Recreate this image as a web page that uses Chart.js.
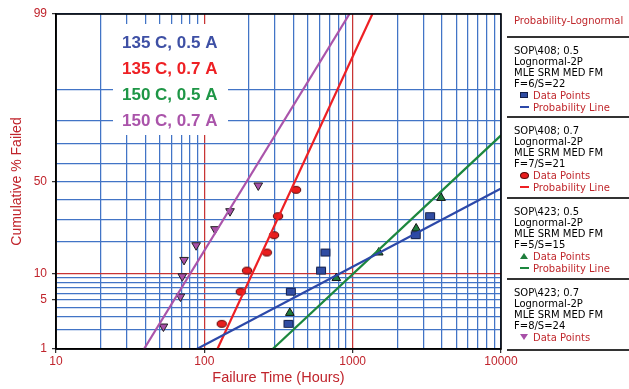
<!DOCTYPE html>
<html>
<head>
<meta charset="utf-8">
<script src="https://cdn.jsdelivr.net/npm/chart.js@4.4.1/dist/chart.umd.min.js"></script>
<style>
  body { margin: 0; background: #fff; }
  #wrap { position: relative; width: 629px; height: 389px; }
  #panel { position: absolute; left: 507px; top: 0; width: 122px; height: 389px;
           font-family: "DejaVu Sans", sans-serif; font-size: 10px; color: #000; }
  #panel .row { position: absolute; left: 7px; height: 11px; line-height: 11px; white-space: nowrap; }
  #panel .key { color: #c0282d; left: 26px; }
  #panel .sep { position: absolute; left: 0; width: 122px; height: 0; border-top: 2px solid #333; }
  #panel .ico { position: absolute; left: 13px; }
</style>
</head>
<body>
<div id="wrap">
  <canvas id="myChart" width="629" height="389"></canvas>
  <div id="panel"></div>
</div>
<script>
// axes
const xGridValues = [10, 20, 30, 40, 50, 60, 70, 80, 90, 100, 200, 300, 400, 500, 600, 700, 800, 900,
  1000, 2000, 3000, 4000, 5000, 6000, 7000, 8000, 9000, 10000];
const xTickLabels = [10, 100, 1000, 10000];
const yGridPct = [1, 2, 3, 4, 5, 6, 7, 8, 9, 10, 20, 30, 40, 50, 60, 70, 80, 90, 99];
const yTickLabels = [1, 5, 10, 50, 99];

// SOP\408; 0.5  (135 C, 0.5 A)
const blueTimes = [369, 383, 612, 655, 2661, 3327];
const bluePct = [2.4, 6.3, 10.8, 16.2, 22.8, 31.5];
const blueLineTimes = [89, 10000];
const blueLinePct = [1, 46.1];

// SOP\408; 0.7  (135 C, 0.7 A)
const redTimes = [131, 176, 194, 264, 295, 314, 415];
const redPct = [2.4, 6.3, 10.8, 16.2, 22.8, 31.5, 45.4];
const redLineTimes = [122.5, 1358];
const redLinePct = [1, 99];

// SOP\423; 0.5  (150 C, 0.5 A)
const greenTimes = [377, 776, 1500, 2679, 3944];
const greenPct = [3.4, 9.0, 16.2, 25.7, 41.0];
const greenLineTimes = [289, 10000];
const greenLinePct = [1, 73.9];

// SOP\423; 0.7  (150 C, 0.7 A)
const purpleTimes = [53, 69, 71, 73, 88, 118, 149, 231];
const purplePct = [2.2, 5.5, 9.4, 13.8, 18.8, 25.4, 34.0, 47.8];
const purpleLineTimes = [39.2, 951];
const purpleLinePct = [1, 99];

const noteLabels = ['135 C, 0.5 A', '135 C, 0.7 A', '150 C, 0.5 A', '150 C, 0.7 A'];

const BLUE = 'rgb(44,72,168)';
const RED = 'rgb(238,32,36)';
const GREEN = 'rgb(28,135,62)';
const PURPLE = 'rgb(170,84,170)';
const AXIS_RED = 'rgb(192,36,44)';
const GRID_BLUE = 'rgb(66,116,198)';
const GRID_RED = 'rgb(200,52,52)';
const noteColors = ['rgb(62,80,165)', RED, 'rgb(30,150,70)', PURPLE];

// inverse standard normal cdf (Acklam) - percent -> z for the probability paper
function probit(pct) {
  const p = pct / 100;
  const a = [-39.69683028665376, 220.9460984245205, -275.9285104469687, 138.357751867269, -30.66479806614716, 2.506628277459239];
  const b = [-54.47609879822406, 161.5858368580409, -155.6989798598866, 66.80131188771972, -13.28068155288572];
  const c = [-0.007784894002430293, -0.3223964580411365, -2.400758277161838, -2.549732539343734, 4.374664141464968, 2.938163982698783];
  const d = [0.007784695709041462, 0.3224671290700398, 2.445134137142996, 3.754408661907416];
  const lo = 0.02425, hi = 1 - lo;
  let q, r;
  if (p < lo) {
    q = Math.sqrt(-2 * Math.log(p));
    return (((((c[0]*q+c[1])*q+c[2])*q+c[3])*q+c[4])*q+c[5]) / ((((d[0]*q+d[1])*q+d[2])*q+d[3])*q+1);
  }
  if (p <= hi) {
    q = p - 0.5; r = q * q;
    return (((((a[0]*r+a[1])*r+a[2])*r+a[3])*r+a[4])*r+a[5])*q / (((((b[0]*r+b[1])*r+b[2])*r+b[3])*r+b[4])*r+1);
  }
  q = Math.sqrt(-2 * Math.log(1 - p));
  return -(((((c[0]*q+c[1])*q+c[2])*q+c[3])*q+c[4])*q+c[5]) / ((((d[0]*q+d[1])*q+d[2])*q+d[3])*q+1);
}

function toPoints(times, pct) {
  return times.map((t, i) => ({ x: t, y: probit(pct[i]) }));
}

// small bitmap markers (flat rectangle / ellipse)
function makeMarker(shape, fill, stroke) {
  const w = 10, h = 8;
  const c = document.createElement('canvas');
  c.width = w + 2; c.height = h + 2;
  const g = c.getContext('2d');
  g.fillStyle = fill; g.strokeStyle = stroke; g.lineWidth = 1;
  g.beginPath();
  if (shape === 'rect') g.rect(1.5, 1.5, w - 1, h - 1);
  else g.ellipse(c.width / 2, c.height / 2, w / 2 - 0.3, h / 2 - 0.6, 0, 0, Math.PI * 2);
  g.fill(); g.stroke();
  return c;
}

function lineSet(times, pct, color) {
  return { type: 'line', data: toPoints(times, pct), borderColor: color, borderWidth: 2.2,
           pointRadius: 0, fill: false, showLine: true };
}

const datasets = [
  lineSet(blueLineTimes, blueLinePct, BLUE),
  lineSet(redLineTimes, redLinePct, RED),
  lineSet(greenLineTimes, greenLinePct, GREEN),
  lineSet(purpleLineTimes, purpleLinePct, PURPLE),
  { data: toPoints(blueTimes, bluePct), pointStyle: makeMarker('rect', 'rgb(48,76,162)', '#14204a'), pointRadius: 5 },
  { data: toPoints(redTimes, redPct), pointStyle: makeMarker('ellipse', 'rgb(232,30,30)', '#5a0a0a'), pointRadius: 5 },
  { data: toPoints(greenTimes, greenPct), pointStyle: 'triangle', pointRadius: 5,
    backgroundColor: 'rgb(30,125,60)', borderColor: '#111', borderWidth: 1 },
  { data: toPoints(purpleTimes, purplePct), pointStyle: 'triangle', rotation: 180, pointRadius: 5,
    backgroundColor: 'rgb(168,80,168)', borderColor: '#222', borderWidth: 1 },
];

// white box with the test conditions over the upper left of the grid
const notesPlugin = {
  id: 'conditionNotes',
  beforeDatasetsDraw(chart) {
    const { ctx, chartArea } = chart;
    const x0 = chartArea.left + 57, y0 = chartArea.top + 10;
    ctx.save();
    ctx.fillStyle = '#fff';
    ctx.fillRect(x0, y0, 115, 111);
    ctx.font = 'bold 17px "Liberation Sans"';
    ctx.textBaseline = 'alphabetic';
    noteLabels.forEach((txt, i) => {
      ctx.fillStyle = noteColors[i];
      ctx.fillText(txt, x0 + 9, y0 + 23.5 + i * 26.2);
    });
    ctx.restore();
  }
};

// black frame round the plot
const framePlugin = {
  id: 'plotFrame',
  afterDraw(chart) {
    const { ctx, chartArea: a } = chart;
    ctx.save();
    ctx.strokeStyle = '#000';
    ctx.lineWidth = 1.6;
    ctx.strokeRect(a.left, a.top, a.right - a.left, a.bottom - a.top);
    ctx.restore();
  }
};

const config = {
  type: 'scatter',
  data: { datasets: datasets },
  options: {
    responsive: false,
    animation: false,
    devicePixelRatio: 1,
    layout: { padding: { top: 14, right: 128, left: 0, bottom: 0 } },
    plugins: { legend: { display: false }, tooltip: { enabled: false } },
    scales: {
      x: {
        type: 'logarithmic', min: 10, max: 10000,
        afterBuildTicks: (s) => { s.ticks = xGridValues.map(v => ({ value: v })); },
        afterFit: (s) => { s.height = 40; },
        ticks: {
          autoSkip: false, maxRotation: 0, padding: 1, color: AXIS_RED,
          font: { family: 'Liberation Sans', size: 12 },
          callback: (v, i) => xTickLabels.includes(xGridValues[i]) ? String(xGridValues[i]) : ''
        },
        grid: {
          lineWidth: 1.25, tickLength: 4,
          color: (c) => (c.tick && (c.tick.value === 100 || c.tick.value === 1000)) ? GRID_RED : GRID_BLUE,
          tickColor: (c) => (c.tick && xTickLabels.includes(c.tick.value)) ? '#333' : 'rgba(0,0,0,0)'
        },
        border: { color: '#000', width: 1.6 },
        title: { display: true, text: 'Failure Time (Hours)', color: AXIS_RED,
                 font: { family: 'Liberation Sans', size: 14.5 }, padding: { top: 0, bottom: 2 } }
      },
      y: {
        type: 'linear', min: probit(1), max: probit(99),
        afterBuildTicks: (s) => { s.ticks = yGridPct.map(p => ({ value: probit(p) })); },
        afterFit: (s) => { s.width = 56; },
        ticks: {
          autoSkip: false, padding: 5, color: AXIS_RED,
          font: { family: 'Liberation Sans', size: 12 },
          callback: (v, i) => yTickLabels.includes(yGridPct[i]) ? String(yGridPct[i]) : ''
        },
        grid: {
          lineWidth: 1.25, tickLength: 4,
          color: (c) => (yGridPct[c.index] === 10) ? GRID_RED : GRID_BLUE,
          tickColor: (c) => yTickLabels.includes(yGridPct[c.index]) ? '#333' : 'rgba(0,0,0,0)'
        },
        border: { color: '#000', width: 1.6 },
        title: { display: true, text: 'Cumulative % Failed', color: AXIS_RED,
                 font: { family: 'Liberation Sans', size: 14 }, padding: { top: 8.5, bottom: 0 } }
      }
    }
  },
  plugins: [notesPlugin, framePlugin]
};

const context = document.getElementById('myChart').getContext('2d');
const chart = new Chart(context, config);

// right-hand legend panel
const panelBlocks = [
  { text: ['SOP\\408; 0.5', 'Lognormal-2P', 'MLE SRM MED FM', 'F=6/S=22'], icon: 'rect', color: BLUE, line: true },
  { text: ['SOP\\408; 0.7', 'Lognormal-2P', 'MLE SRM MED FM', 'F=7/S=21'], icon: 'dot', color: RED, line: true },
  { text: ['SOP\\423; 0.5', 'Lognormal-2P', 'MLE SRM MED FM', 'F=5/S=15'], icon: 'up', color: GREEN, line: true },
  { text: ['SOP\\423; 0.7', 'Lognormal-2P', 'MLE SRM MED FM', 'F=8/S=24'], icon: 'down', color: PURPLE, line: false },
];
const panelSeps = [37, 117, 198, 279, 350];

const panel = document.getElementById('panel');
function addRow(txt, y, cls) {
  const d = document.createElement('div');
  d.className = 'row' + (cls ? ' ' + cls : '');
  d.style.top = (y - 5.5) + 'px';
  d.textContent = txt;
  panel.appendChild(d);
}
function addIcon(kind, color, y) {
  const d = document.createElement('div');
  d.className = 'ico';
  if (kind === 'rect') Object.assign(d.style, { width: '6px', height: '4px', background: 'rgb(48,76,162)', border: '1px solid #14204a', top: (y - 3) + 'px' });
  if (kind === 'dot') Object.assign(d.style, { width: '7px', height: '5px', borderRadius: '50%', background: 'rgb(232,30,30)', border: '1px solid #5a0a0a', top: (y - 3.5) + 'px' });
  if (kind === 'up') Object.assign(d.style, { width: 0, height: 0, borderLeft: '4px solid transparent', borderRight: '4px solid transparent', borderBottom: '6px solid rgb(30,125,60)', top: (y - 3) + 'px' });
  if (kind === 'down') Object.assign(d.style, { width: 0, height: 0, borderLeft: '4px solid transparent', borderRight: '4px solid transparent', borderTop: '6px solid rgb(168,80,168)', top: (y - 3) + 'px' });
  if (kind === 'line') Object.assign(d.style, { width: '9px', height: '2px', background: color, top: (y - 1) + 'px' });
  panel.appendChild(d);
}

addRow('Probability-Lognormal', 20, 'key');
panel.lastChild.style.left = '7px';
panelSeps.forEach(y => {
  const s = document.createElement('div');
  s.className = 'sep';
  s.style.top = (y - 1) + 'px';
  panel.appendChild(s);
});
panelBlocks.forEach((b, k) => {
  const top = panelSeps[k];
  b.text.forEach((t, i) => addRow(t, top + 13.5 + i * 11));
  addIcon(b.icon, b.color, top + 58);
  addRow('Data Points', top + 58, 'key');
  if (b.line) {
    addIcon('line', b.color, top + 70);
    addRow('Probability Line', top + 70, 'key');
  }
});
</script>
</body>
</html>
